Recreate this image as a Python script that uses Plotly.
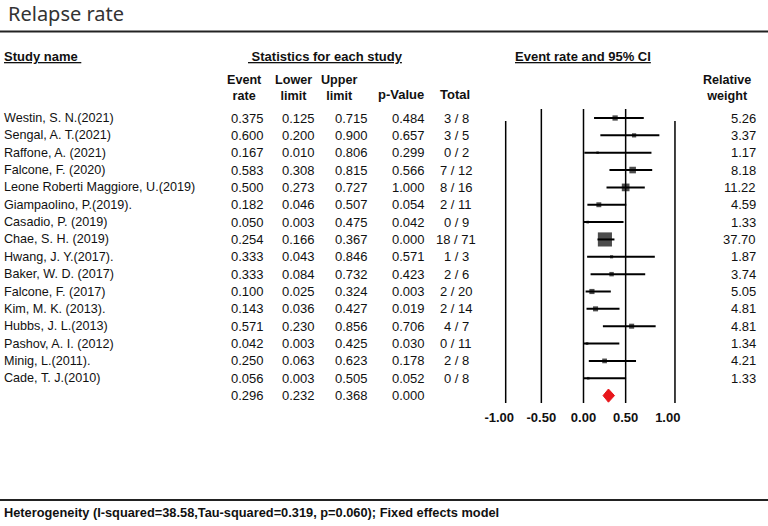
import plotly.graph_objects as go

W, H = 768, 526

title = "Relapse rate"
studies = ["Westin, S. N.(2021)", "Sengal, A. T.(2021)", "Raffone, A. (2021)", "Falcone, F. (2020)",
           "Leone Roberti Maggiore, U.(2019)", "Giampaolino, P.(2019).", "Casadio, P. (2019)",
           "Chae, S. H. (2019)", "Hwang, J. Y.(2017).", "Baker, W. D. (2017)", "Falcone, F. (2017)",
           "Kim, M. K. (2013).", "Hubbs, J. L.(2013)", "Pashov, A. I. (2012)", "Minig, L.(2011).",
           "Cade, T. J.(2010)"]
event_rate = [0.375, 0.600, 0.167, 0.583, 0.500, 0.182, 0.050, 0.254, 0.333, 0.333, 0.100, 0.143, 0.571, 0.042, 0.250, 0.056]
lower = [0.125, 0.200, 0.010, 0.308, 0.273, 0.046, 0.003, 0.166, 0.043, 0.084, 0.025, 0.036, 0.230, 0.003, 0.063, 0.003]
upper = [0.715, 0.900, 0.806, 0.815, 0.727, 0.507, 0.475, 0.367, 0.846, 0.732, 0.324, 0.427, 0.856, 0.425, 0.623, 0.505]
p_value = [0.484, 0.657, 0.299, 0.566, 1.000, 0.054, 0.042, 0.000, 0.571, 0.423, 0.003, 0.019, 0.706, 0.030, 0.178, 0.052]
events = [3, 3, 0, 7, 8, 2, 0, 18, 1, 2, 2, 2, 4, 0, 2, 0]
totals = [8, 5, 2, 12, 16, 11, 9, 71, 3, 6, 20, 14, 7, 11, 8, 8]
rel_weight = [5.26, 3.37, 1.17, 8.18, 11.22, 4.59, 1.33, 37.70, 1.87, 3.74, 5.05, 4.81, 4.81, 1.34, 4.21, 1.33]
summary = {"rate": 0.296, "lower": 0.232, "upper": 0.368, "p": 0.000}
tick_vals = [-1.0, -0.5, 0.0, 0.5, 1.0]
tick_text = ["-1.00", "-0.50", "0.00", "0.50", "1.00"]
footer = "Heterogeneity (I-squared=38.58,Tau-squared=0.319, p=0.060); Fixed effects model"

# ---- layout geometry (pixels) ----
X0, XS = 583.5, 84.3          # pixel of x=0, pixels per unit
ROW0, ROWH = 118.0, 17.35     # pixel of first row, row height
def px(p): return p / W
def py(p): return 1 - p / H

FONT = "Liberation Sans, Arial, sans-serif"
n = len(studies)
rows = list(range(n))
srow = n

fig = go.Figure()

# CI lines + squares
fig.add_trace(go.Scatter(
    x=event_rate, y=rows, mode="markers",
    marker=dict(symbol="square", color="black", size=[2.3 * w ** 0.5 for w in rel_weight], line=dict(width=0)),
    error_x=dict(type="data", symmetric=False,
                 array=[u - e for u, e in zip(upper, event_rate)],
                 arrayminus=[e - l for e, l in zip(event_rate, lower)],
                 color="black", thickness=2, width=0),
    showlegend=False, hoverinfo="skip"))

# summary diamond
dh = 0.38
fig.add_trace(go.Scatter(
    x=[summary["lower"], summary["rate"], summary["upper"], summary["rate"], summary["lower"]],
    y=[srow, srow - dh, srow, srow + dh, srow],
    mode="lines", fill="toself", fillcolor="#e8161b", line=dict(color="#e8161b", width=1),
    showlegend=False, hoverinfo="skip"))

shapes = []
# vertical reference lines
for xv in [-0.5, 0.0, 0.5]:
    shapes.append(dict(type="line", xref="x", yref="paper", x0=xv, x1=xv, y0=py(403), y1=py(109),
                       line=dict(color="black", width=1.5), layer="below"))
for xv in [-0.923, 1.085]:
    shapes.append(dict(type="line", xref="x", yref="paper", x0=xv, x1=xv, y0=py(403), y1=py(121),
                       line=dict(color="black", width=1.5), layer="below"))
# title rule and footer rule
shapes.append(dict(type="line", xref="paper", yref="paper", x0=0, x1=1, y0=py(31.5), y1=py(31.5),
                   line=dict(color="#222", width=2)))
shapes.append(dict(type="line", xref="paper", yref="paper", x0=0, x1=1, y0=py(500), y1=py(500),
                   line=dict(color="#222", width=2)))

ann = []
def txt(text, x, y, anchor="left", size=13, bold=False, yref="paper", color="#111", family=FONT):
    ann.append(dict(text=text, x=x, y=y, xref="paper", yref=yref, xanchor=anchor, yanchor="middle",
                    showarrow=False, borderpad=0, borderwidth=0,
                    font=dict(family=family, size=size, color=color,
                              weight="bold" if bold else "normal")))

# title
txt(title, px(8), py(13), size=20, color="#333", family="Noto Sans, sans-serif")

# headers
txt("<u>Study name&nbsp;</u>", px(4), py(57), bold=True)
txt("<u>&nbsp;Statistics for each study</u>", px(325), py(57), anchor="center", bold=True)
txt("<u>Event rate and 95% CI</u>", px(583), py(57), anchor="center", bold=True)
for label, cx in [("Event<br>rate", 244), ("Lower<br>limit", 293), ("Upper<br>limit", 339),
                  ("Relative<br>weight", 727)]:
    txt(label, px(cx), py(88), anchor="center", bold=True, size=12.6)
for label, cx in [("p-Value", 401), ("Total", 455)]:
    txt(label, px(cx), py(95), anchor="center", bold=True)

# rows
for i in rows:
    txt(studies[i], px(4), i, yref="y", size=12.6)
    txt(f"{event_rate[i]:.3f}", px(264), i, anchor="right", yref="y")
    txt(f"{lower[i]:.3f}", px(315), i, anchor="right", yref="y")
    txt(f"{upper[i]:.3f}", px(368), i, anchor="right", yref="y")
    txt(f"{p_value[i]:.3f}", px(425), i, anchor="right", yref="y")
    txt(f"{events[i]} / {totals[i]}", px(456), i, anchor="center", yref="y")
    txt(f"{rel_weight[i]:.2f}", px(756), i, anchor="right", yref="y")
txt(f"{summary['rate']:.3f}", px(264), srow, anchor="right", yref="y")
txt(f"{summary['lower']:.3f}", px(315), srow, anchor="right", yref="y")
txt(f"{summary['upper']:.3f}", px(368), srow, anchor="right", yref="y")
txt(f"{summary['p']:.3f}", px(425), srow, anchor="right", yref="y")

# footer
txt(footer, px(4), py(512), bold=True, size=12.8)

fig.update_layout(
    width=W, height=H, margin=dict(l=0, r=0, t=0, b=0),
    paper_bgcolor="white", plot_bgcolor="white",
    shapes=shapes, annotations=ann,
    xaxis=dict(domain=[0, 1], range=[(0 - X0) / XS, (W - X0) / XS], anchor="free", position=py(408),
               showgrid=False, zeroline=False, showline=False, ticks="", fixedrange=True,
               tickvals=tick_vals, ticktext=tick_text,
               tickfont=dict(family=FONT, size=13, color="#111", weight="bold")),
    yaxis=dict(domain=[0, 1], range=[(H - ROW0) / ROWH, -ROW0 / ROWH], visible=False,
               showgrid=False, zeroline=False, fixedrange=True),
)
fig.write_html("out.html", config={"displayModeBar": False},
               post_script="document.body.style.margin='0';document.body.style.overflow='hidden';")
